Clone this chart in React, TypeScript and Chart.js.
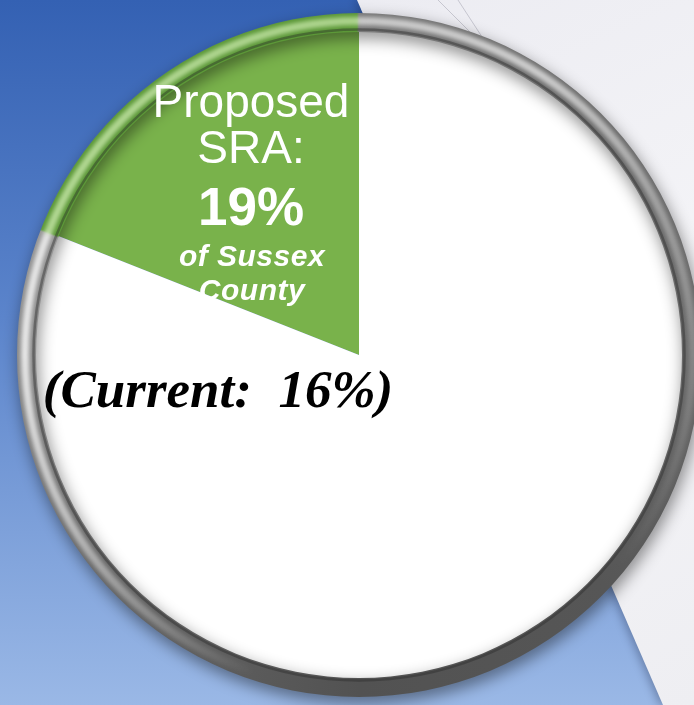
import React, { useEffect, useRef } from "react";
import { Chart, registerables } from "chart.js";

Chart.register(...registerables);

// ---- data ----
const categories = ["Proposed SRA", "Rest of Sussex County"];
const shares = [19, 81];
const sliceColors = ["#79b24b", "#ffffff"];
const sliceLabelTop = ["Proposed", "SRA:"];
const sliceLabelBottom = ["of Sussex", "County"];
const currentShare = 16;

const total = shares.reduce((a, b) => a + b, 0);

const backgroundPlugin = {
  id: "scene-bg",
  beforeDraw(chart: any) {
    const { ctx, width, height } = chart;
    ctx.save();
    const g = ctx.createLinearGradient(0, 0, 0, height);
    g.addColorStop(0, "#3461b3");
    g.addColorStop(0.45, "#5b84cb");
    g.addColorStop(1, "#9ab8e6");
    ctx.fillStyle = g;
    ctx.fillRect(0, 0, width, height);

    // light sheet on the right
    ctx.shadowColor = "rgba(20,30,60,0.35)";
    ctx.shadowBlur = 10;
    ctx.shadowOffsetX = -3;
    ctx.beginPath();
    ctx.moveTo(357, 0);
    ctx.lineTo(width + 30, 0);
    ctx.lineTo(width + 30, height);
    ctx.lineTo(663, height);
    ctx.closePath();
    const sg = ctx.createLinearGradient(357, 0, width, height);
    sg.addColorStop(0, "#ececf2");
    sg.addColorStop(0.5, "#f4f4f7");
    sg.addColorStop(1, "#eeeef2");
    ctx.fillStyle = sg;
    ctx.fill();
    ctx.shadowColor = "transparent";

    // faint sheet edges
    ctx.strokeStyle = "rgba(150,150,165,0.45)";
    ctx.lineWidth = 1;
    ctx.beginPath();
    ctx.moveTo(438, 0);
    ctx.lineTo(478, 40);
    ctx.moveTo(458, 0);
    ctx.lineTo(484, 40);
    ctx.stroke();
    ctx.restore();
  },
};

const rimPlugin = {
  id: "rim-and-labels",
  afterDatasetsDraw(chart: any) {
    const { ctx } = chart;
    const arc = chart.getDatasetMeta(0).data[0];
    const { x, y, outerRadius: r, startAngle, endAngle } = arc.getProps(
      ["x", "y", "outerRadius", "startAngle", "endAngle"],
      true
    );
    const norm = (a: number) => {
      let d = (a * 180) / Math.PI;
      while (d < 0) d += 360;
      while (d >= 360) d -= 360;
      return d / 360;
    };
    const gs = norm(startAngle);
    let ge = norm(endAngle);
    if (ge <= gs) ge = 1;

    const rimW = 18;
    const rMid = r + rimW / 2;

    ctx.save();
    // base rim with drop shadow
    const base = ctx.createConicGradient(0, x, y);
    const baseStops: [number, string][] = [
      [0, "#6a6a6a"],
      [0.12, "#565656"],
      [0.25, "#525252"],
      [0.375, "#666666"],
      [0.5, "#8a8a8a"],
      [gs - 0.001, "#959595"],
      [gs, "#5c9838"],
      [ge - 0.001, "#5c9838"],
      [Math.min(ge, 0.999), "#7a7a7a"],
      [0.875, "#6e6e6e"],
      [1, "#6a6a6a"],
    ];
    baseStops
      .sort((a, b) => a[0] - b[0])
      .forEach(([p, c]) => base.addColorStop(Math.max(0, Math.min(1, p)), c));
    ctx.shadowColor = "rgba(0,0,0,0.45)";
    ctx.shadowBlur = 16;
    ctx.shadowOffsetX = 2;
    ctx.shadowOffsetY = 6;
    ctx.beginPath();
    ctx.arc(x, y, r + rimW, 0, Math.PI * 2);
    ctx.arc(x, y, r - 1, 0, Math.PI * 2, true);
    ctx.fillStyle = base;
    ctx.fill();
    ctx.shadowColor = "transparent";

    // highlight band
    const hl = ctx.createConicGradient(0, x, y);
    const hlStops: [number, string][] = [
      [0, "rgba(255,255,255,0.2)"],
      [0.11, "rgba(255,255,255,0)"],
      [0.3, "rgba(255,255,255,0)"],
      [0.42, "rgba(255,255,255,0.55)"],
      [0.5, "rgba(255,255,255,0.8)"],
      [gs - 0.001, "rgba(255,255,255,0.75)"],
      [gs, "rgba(200,232,170,0.8)"],
      [ge - 0.001, "rgba(200,232,170,0.75)"],
      [Math.min(ge, 0.999), "rgba(255,255,255,0.6)"],
      [0.84, "rgba(255,255,255,0.65)"],
      [0.93, "rgba(255,255,255,0.35)"],
      [1, "rgba(255,255,255,0.2)"],
    ];
    hlStops
      .sort((a, b) => a[0] - b[0])
      .forEach(([p, c]) => hl.addColorStop(Math.max(0, Math.min(1, p)), c));
    ctx.filter = "blur(2px)";
    ctx.beginPath();
    ctx.arc(x, y, rMid + 1, 0, Math.PI * 2);
    ctx.strokeStyle = hl;
    ctx.lineWidth = 8;
    ctx.stroke();
    ctx.filter = "none";

    // inner dark line
    ctx.beginPath();
    ctx.arc(x, y, r + 1.5, 0, Math.PI * 2);
    ctx.strokeStyle = "rgba(40,40,40,0.4)";
    ctx.lineWidth = 2.5;
    ctx.stroke();
    ctx.restore();

    // ---- labels ----
    ctx.save();
    ctx.textAlign = "center";
    ctx.textBaseline = "alphabetic";
    ctx.fillStyle = "#ffffff";
    const lx = x - 108;
    ctx.font = '46px "Liberation Sans", Arial, sans-serif';
    ctx.fillText(sliceLabelTop[0], lx, y - 238);
    ctx.fillText(sliceLabelTop[1], lx, y - 192);
    ctx.font = 'bold 53px "Liberation Sans", Arial, sans-serif';
    ctx.fillText(`${shares[0]}%`, lx, y - 130);
    ctx.font = 'italic bold 30px "Liberation Sans", Arial, sans-serif';
    (ctx as any).letterSpacing = "0.5px";
    ctx.fillText(sliceLabelBottom[0], lx + 1, y - 89);
    ctx.fillText(sliceLabelBottom[1], lx + 1, y - 55);
    (ctx as any).letterSpacing = "0px";

    ctx.fillStyle = "#000000";
    ctx.font = 'italic bold 53px "Liberation Serif", "Times New Roman", serif';
    ctx.fillText(`(Current:  ${currentShare}%)`, x - 141, y + 52);
    ctx.restore();
  },
};

export default function App() {
  const ref = useRef<HTMLCanvasElement | null>(null);

  useEffect(() => {
    if (!ref.current) return;
    const chart = new Chart(ref.current, {
      type: "pie",
      data: {
        labels: categories,
        datasets: [
          {
            data: shares,
            backgroundColor: sliceColors,
            borderWidth: 0,
          },
        ],
      },
      options: {
        animation: false,
        responsive: true,
        maintainAspectRatio: false,
        devicePixelRatio: 1,
        events: [],
        rotation: -(shares[0] / total) * 360,
        layout: { padding: { left: 35, right: 11, top: 31, bottom: 26 } },
        plugins: {
          legend: { display: false },
          tooltip: { enabled: false },
        },
      },
      plugins: [backgroundPlugin, rimPlugin],
    });
    return () => chart.destroy();
  }, []);

  return (
    <div
      style={{
        position: "fixed",
        left: 0,
        top: 0,
        width: 694,
        height: 705,
        overflow: "hidden",
      }}
    >
      <canvas ref={ref} />
    </div>
  );
}
